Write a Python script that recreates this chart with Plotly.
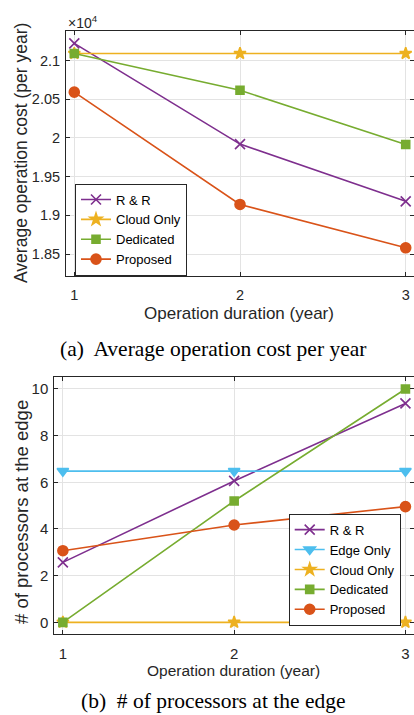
import plotly.graph_objects as go

# ---- data ----
years = [1, 2, 3]

# (a) average operation cost per year
cost_rr = [21220, 19920, 19180]
cost_cloud = [21090, 21090, 21090]
cost_dedicated = [21090, 20615, 19915]
cost_proposed = [20590, 19140, 18580]
cost_ticks = [18500, 19000, 19500, 20000, 20500, 21000]
cost_ticktext = ["1.85", "1.9", "1.95", "2", "2.05", "2.1"]

# (b) number of processors at the edge
proc_rr = [2.57, 6.06, 9.38]
proc_edge = [6.48, 6.48, 6.48]
proc_cloud = [0, 0, 0]
proc_dedicated = [0, 5.2, 10]
proc_proposed = [3.07, 4.17, 4.96]
proc_ticks = [0, 2, 4, 6, 8, 10]

# ---- styling ----
W, H = 414, 715
SANS = "Liberation Sans, Arial, Helvetica, sans-serif"
SERIF = "Liberation Serif, Times New Roman, serif"
INK = "#262626"
GRID = "#e3e3e3"

C_RR = "#7E2F8E"
C_EDGE = "#4DBEEE"
C_CLOUD = "#EDB120"
C_DED = "#77AC30"
C_PROP = "#D95319"

styles = {
    "R & R": dict(color=C_RR, symbol="x-thin-open", size=10),
    "Edge Only": dict(color=C_EDGE, symbol="triangle-down", size=10),
    "Cloud Only": dict(color=C_CLOUD, symbol="star", size=9),
    "Dedicated": dict(color=C_DED, symbol="square", size=8),
    "Proposed": dict(color=C_PROP, symbol="circle", size=10),
}


def px_x(p):
    return p / W


def px_y(p):
    return (H - p) / H


def series(name, ys, xa, ya, legend):
    s = styles[name]
    return go.Scatter(
        x=years, y=ys, name=name, mode="lines+markers",
        xaxis=xa, yaxis=ya, legend=legend,
        line=dict(color=s["color"], width=1.6),
        marker=dict(symbol=s["symbol"], size=s["size"], color=s["color"],
                    line=dict(color=s["color"], width=1.6)),
    )


fig = go.Figure()
fig.add_trace(series("R & R", cost_rr, "x", "y", "legend"))
fig.add_trace(series("Cloud Only", cost_cloud, "x", "y", "legend"))
fig.add_trace(series("Dedicated", cost_dedicated, "x", "y", "legend"))
fig.add_trace(series("Proposed", cost_proposed, "x", "y", "legend"))

fig.add_trace(series("R & R", proc_rr, "x2", "y2", "legend2"))
fig.add_trace(series("Edge Only", proc_edge, "x2", "y2", "legend2"))
fig.add_trace(series("Cloud Only", proc_cloud, "x2", "y2", "legend2"))
fig.add_trace(series("Dedicated", proc_dedicated, "x2", "y2", "legend2"))
fig.add_trace(series("Proposed", proc_proposed, "x2", "y2", "legend2"))

axis_common = dict(
    showline=True, linecolor=INK, linewidth=1, mirror="ticks",
    ticks="inside", ticklen=4, tickcolor=INK, tickwidth=1,
    showgrid=True, gridcolor=GRID, gridwidth=1, zeroline=False,
    automargin=False,
)
font_a = dict(family=SANS, size=14.5, color=INK)
font_b = dict(family=SANS, size=15, color=INK)

fig.update_layout(
    template="none",
    width=W, height=H,
    margin=dict(l=0, r=0, t=0, b=0, autoexpand=False),
    paper_bgcolor="white", plot_bgcolor="white",
    font=dict(family=SANS, color=INK),
    xaxis=dict(axis_common, domain=[px_x(66), 1.0], range=[0.95, 3.05],
               tickvals=years, anchor="y", ticklabelstandoff=6, tickfont=font_a),
    yaxis=dict(axis_common, domain=[px_y(275.7), px_y(31)], range=[18220, 21380],
               tickvals=cost_ticks, ticktext=cost_ticktext, anchor="x",
               ticklabelstandoff=2, tickfont=font_a),
    xaxis2=dict(axis_common, domain=[px_x(54.3), 1.0], range=[0.95, 3.05],
                tickvals=years, anchor="y2", ticklabelstandoff=6, tickfont=font_b),
    yaxis2=dict(axis_common, domain=[px_y(634), px_y(377.3)], range=[-0.5, 10.5],
                tickvals=proc_ticks, anchor="x2", ticklabelstandoff=2, tickfont=font_b),
    legend=dict(
        x=px_x(75), y=px_y(229.5), xanchor="left", yanchor="middle",
        bgcolor="white", bordercolor=INK, borderwidth=1,
        font=dict(family=SANS, size=13, color="black"),
        tracegroupgap=0,
    ),
    legend2=dict(
        x=px_x(288.7), y=px_y(569.7), xanchor="left", yanchor="middle",
        bgcolor="white", bordercolor=INK, borderwidth=1,
        font=dict(family=SANS, size=13, color="black"),
        tracegroupgap=0,
    ),
    showlegend=True,
)

annotations = [
    # exponent of the cost axis
    dict(text="\u00d710<sup>4</sup>", x=px_x(66), y=px_y(22), xanchor="left",
         yanchor="middle", font=dict(family=SANS, size=14, color=INK)),
    # panel (a) axis titles and caption
    dict(text="Average operation cost (per year)", x=px_x(21), y=px_y(153),
         textangle=-90, xanchor="center", yanchor="middle",
         font=dict(family=SANS, size=17.5, color=INK)),
    dict(text="Operation duration (year)", x=px_x(239), y=px_y(313),
         xanchor="center", yanchor="middle",
         font=dict(family=SANS, size=17, color=INK)),
    dict(text="(a)  Average operation cost per year", x=px_x(213), y=px_y(349),
         xanchor="center", yanchor="middle",
         font=dict(family=SERIF, size=21.5, color="black")),
    # panel (b) axis titles and caption
    dict(text="# of processors at the edge", x=px_x(21), y=px_y(512),
         textangle=-90, xanchor="center", yanchor="middle",
         font=dict(family=SANS, size=18.5, color=INK)),
    dict(text="Operation duration (year)", x=px_x(234), y=px_y(670.7),
         xanchor="center", yanchor="middle",
         font=dict(family=SANS, size=15.5, color=INK)),
    dict(text="(b)  # of processors at the edge", x=px_x(213), y=0,
         xanchor="center", yanchor="bottom",
         font=dict(family=SERIF, size=21.5, color="black")),
]
for a in annotations:
    a.update(xref="paper", yref="paper", showarrow=False)
fig.update_layout(annotations=annotations)

fig.write_html("out.html")
